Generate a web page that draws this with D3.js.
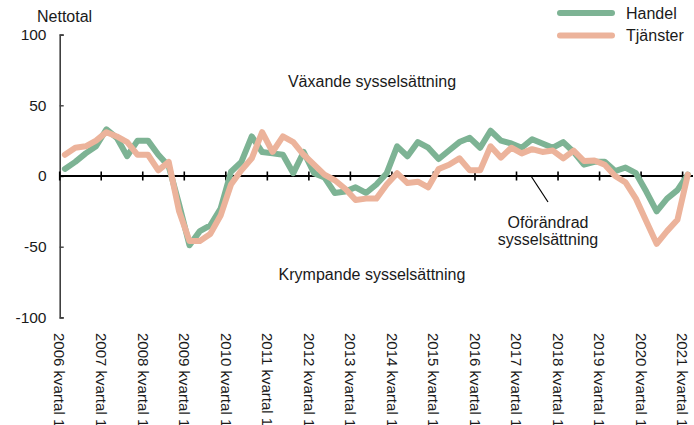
<!DOCTYPE html>
<html>
<head>
<meta charset="utf-8">
<script src="https://cdn.jsdelivr.net/npm/d3@7/dist/d3.min.js"></script>
<style>
  html, body { margin: 0; padding: 0; background: #ffffff; }
  svg { display: block; }
  text { font-family: "Liberation Sans", Arial, sans-serif; fill: #1a1a1a; }
</style>
</head>
<body>
<svg id="chart" width="694" height="425"></svg>
<script>
// ---- Data ----
const years = d3.range(2006, 2022);
const quarters = [];
years.forEach(y => { [1, 2, 3, 4].forEach(q => { if (y < 2021 || q === 1) quarters.push(y + " kvartal " + q); }); });

const handel = [
  5, 10, 16, 21, 33, 27, 14, 25, 25, 15, 7, -20, -49, -39, -35, -23, 3, 10, 28, 17,
  16, 15, 2, 17, 2, -1, -12, -11, -8, -12, -6, 2, 21, 14, 24, 20, 12, 18, 24, 27,
  20, 32, 25, 23, 20, 26, 23, 20, 24, 17, 8, 10, 10, 3.5, 6, 2, -11, -25, -16, -10, 1
];
const tjanster = [
  15, 20, 21, 25, 31, 28, 24, 15, 15, 4, 10, -25, -46, -46, -41, -28, -6, 4, 12.5, 31,
  17, 28, 24, 15, 8, 1, -3, -9, -17, -16, -16, -6, 2, -5, -4, -8, 5, 8, 12.5, 4,
  4, 21, 13, 20, 16, 19, 17, 18, 12.5, 18, 10.6, 11, 8, 0, -4.5, -16, -32, -48, -39, -31, 1
];
const yTicks = [100, 50, 0, -50, -100];
const seriesNames = ["Handel", "Tjänster"];
const seriesColors = ["#7db394", "#ecb39b"];

// ---- Layout ----
const svg = d3.select("#chart");
const x = d3.scaleBand().domain(quarters).range([59.7, 693]).padding(0);
const y = d3.scaleLinear().domain([-100, 100]).range([317.4, 34.6]);

// Y axis
const yAxis = d3.axisRight(y).tickValues(yTicks).tickSize(4).tickFormat("");
const gy = svg.append("g").attr("transform", "translate(" + x.range()[0] + ",0)").call(yAxis);
gy.select(".domain").attr("stroke", "#404040").attr("stroke-width", 1.6);
gy.selectAll(".tick line").attr("stroke", "#404040").attr("stroke-width", 1.4);

svg.append("g").selectAll("text").data(yTicks).join("text")
  .attr("x", 46.5).attr("y", d => y(d)).attr("dy", "0.35em")
  .attr("text-anchor", "end").attr("font-size", 15.5).text(d => d);

svg.append("text").attr("x", 37).attr("y", 22).attr("font-size", 16).text("Nettotal");

// Zero line with year ticks
const q1 = quarters.filter(q => q.endsWith("kvartal 1"));
const xAxis = d3.axisBottom(x).tickValues(q1).tickSizeInner(0).tickSizeOuter(0).tickFormat("");
const gx = svg.append("g").attr("transform", "translate(0," + y(0) + ")").call(xAxis);
gx.select(".domain").attr("stroke", "#000").attr("stroke-width", 2).attr("d", "M" + x.range()[0] + ",0H" + x.range()[1]);
gx.selectAll(".tick").attr("transform", d => "translate(" + x(d) + ",0)");
gx.selectAll(".tick line").attr("y1", -4.5).attr("y2", 4.5).attr("stroke", "#000").attr("stroke-width", 1.6);

// X labels (rotated)
svg.append("g").selectAll("text").data(q1).join("text")
  .attr("transform", d => "translate(" + x(d) + ",333) rotate(90)")
  .attr("dy", "0.35em").attr("font-size", 15).text(d => d);

// Lines
const line = d3.line().x((d, i) => x(quarters[i]) + x.bandwidth() / 2).y(d => y(d));
[handel, tjanster].forEach((s, k) => {
  svg.append("path").datum(s).attr("d", line)
    .attr("fill", "none").attr("stroke", seriesColors[k]).attr("stroke-width", 6)
    .attr("stroke-linejoin", "round").attr("stroke-linecap", "round");
});

// Annotations
svg.append("text").attr("x", 372).attr("y", 87).attr("text-anchor", "middle").attr("font-size", 16).text("Växande sysselsättning");
svg.append("text").attr("x", 372).attr("y", 280).attr("text-anchor", "middle").attr("font-size", 16).text("Krympande sysselsättning");
svg.append("text").attr("x", 548).attr("y", 228).attr("text-anchor", "middle").attr("font-size", 16).text("Oförändrad");
svg.append("text").attr("x", 548).attr("y", 245).attr("text-anchor", "middle").attr("font-size", 16).text("sysselsättning");
svg.append("line").attr("x1", 531).attr("y1", 176).attr("x2", 548).attr("y2", 202).attr("stroke", "#000").attr("stroke-width", 1.2);

// Legend
const leg = svg.append("g");
seriesNames.forEach((n, k) => {
  const ly = 13 + k * 22.5;
  leg.append("line").attr("x1", 560).attr("x2", 612).attr("y1", ly).attr("y2", ly)
    .attr("stroke", seriesColors[k]).attr("stroke-width", 6).attr("stroke-linecap", "round");
  leg.append("text").attr("x", 626).attr("y", ly).attr("dy", "0.35em").attr("font-size", 16).text(n);
});
</script>
</body>
</html>
